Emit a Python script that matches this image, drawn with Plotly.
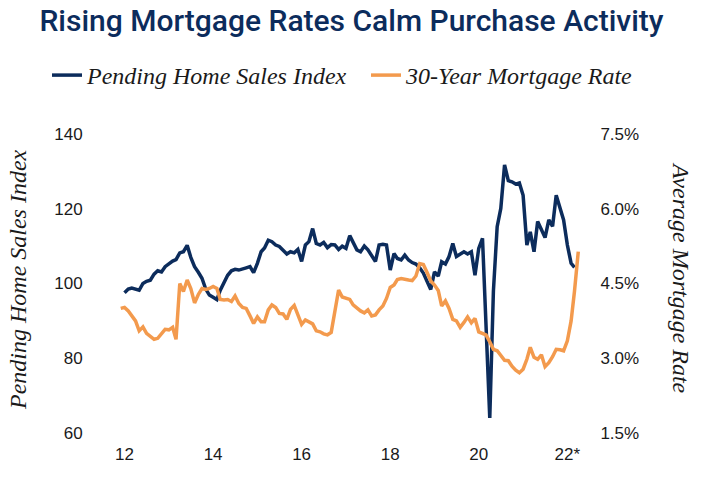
import datetime as dt
import pandas as pd
import plotly.graph_objects as go

# ---------------- data ----------------
title_text = "Rising Mortgage Rates Calm Purchase Activity"
series_names = ["Pending Home Sales Index", "30-Year Mortgage Rate"]
left_title = "Pending Home Sales Index"
right_title = "Average Mortgage Rate"

pending_start = "2012-01-01"   # monthly
pending_index = [
    97.5, 98.5, 98.8, 98.6, 98.2, 100.0, 100.6, 100.9, 102.5, 103.4,
    103.1, 104.5, 105.4, 106.0, 106.4, 108.2, 108.5, 110.2, 107.0, 104.5,
    103.0, 101.4, 98.5, 96.9, 96.3, 95.7, 98.2, 100.5, 102.2, 103.4,
    103.8, 103.6, 104.0, 104.2, 104.5, 102.9, 105.4, 108.5, 109.5, 111.6,
    111.2, 110.3, 109.9, 108.8, 107.9, 108.5, 108.2, 109.1, 105.9, 110.3,
    111.2, 114.7, 110.7, 110.3, 111.0, 109.6, 110.4, 110.3, 109.1, 110.0,
    109.4, 112.8, 111.2, 109.0, 108.5, 110.0, 109.0, 107.5, 105.9, 110.3,
    110.5, 110.3, 103.6, 108.0, 106.7, 106.3, 107.6, 106.3, 105.6, 105.2,
    104.2, 102.8, 100.8, 98.4, 103.1, 102.0, 105.8, 105.2, 107.2, 110.7,
    107.2, 107.8, 108.5, 107.9, 108.5, 102.2, 109.4, 112.1, 87.0, 64.0,
    98.0, 115.2, 120.1, 131.7, 127.5, 127.2, 126.6, 126.9, 123.6, 110.3,
    113.8, 108.5, 116.6, 114.3, 112.3, 117.0, 115.3, 123.6, 119.8, 117.0,
    110.3, 105.4, 104.3,
]

rate_start = "2011-12-01"      # monthly, percent
mortgage_rate = [
    4.00, 4.02, 3.95, 3.85, 3.75, 3.55, 3.63, 3.50, 3.45, 3.38,
    3.40, 3.50, 3.58, 3.57, 3.62, 3.38, 4.50, 4.34, 4.57, 4.40,
    4.11, 4.28, 4.40, 4.38, 4.40, 4.44, 4.40, 4.18, 4.17, 4.18,
    4.14, 4.25, 4.10, 4.02, 4.00, 3.85, 3.70, 3.83, 3.73, 3.73,
    3.97, 4.07, 4.02, 3.90, 3.89, 3.78, 3.98, 4.06, 3.87, 3.68,
    3.77, 3.73, 3.69, 3.55, 3.53, 3.49, 3.47, 3.52, 3.95, 4.37,
    4.23, 4.20, 4.18, 4.07, 4.00, 3.95, 3.91, 3.97, 3.85, 3.87,
    3.97, 4.05, 4.20, 4.42, 4.47, 4.58, 4.60, 4.58, 4.57, 4.56,
    4.65, 4.90, 4.88, 4.72, 4.55, 4.47, 4.36, 4.05, 4.15, 4.00,
    3.78, 3.75, 3.62, 3.72, 3.83, 3.71, 3.80, 3.53, 3.50, 3.47,
    3.33, 3.18, 3.15, 3.05, 2.96, 2.95, 2.84, 2.76, 2.71, 2.78,
    2.98, 3.22, 3.02, 2.98, 3.07, 2.83, 2.91, 3.03, 3.18, 3.17,
    3.15, 3.35, 3.75, 4.35, 5.14,
]

x_tick_dates = ["2012-01-01", "2014-01-01", "2016-01-01", "2018-01-01", "2020-01-01", "2022-01-01"]
x_tick_labels = ["12", "14", "16", "18", "20", "22*"]
left_ticks = [60, 80, 100, 120, 140]
left_tick_labels = ["60", "80", "100", "120", "140"]
right_ticks = [1.5, 3.0, 4.5, 6.0, 7.5]
right_tick_labels = ["1.5%", "3.0%", "4.5%", "6.0%", "7.5%"]

# ---------------- styling / layout ----------------
W, H = 703, 492
NAVY = "#0c2c5c"
ORANGE = "#f39a4d"
TEXT = "#1a1a1a"

# plot-area edges, in pixels
PLOT_L, PLOT_R, PLOT_T, PLOT_B = 110, 590, 134, 433
pw = PLOT_R - PLOT_L
ph = PLOT_B - PLOT_T

pending_dates = pd.date_range(pending_start, periods=len(pending_index), freq="MS")
rate_dates = pd.date_range(rate_start, periods=len(mortgage_rate), freq="MS")

# x range chosen so that Jan-2012 sits at x=124.5 px with 3.69 px per month
px_per_day = 3.69 * 12 / 365.25
anchor = dt.datetime(2012, 1, 1)
x0 = anchor - dt.timedelta(days=(124.5 - PLOT_L) / px_per_day)
x1 = anchor + dt.timedelta(days=(PLOT_R - 124.5) / px_per_day)


def paper_x(px):
    return (px - PLOT_L) / pw


def paper_y(py):
    return (PLOT_B - py) / ph


def cont_x(px):
    return px / W


def cont_y(py):
    return 1 - py / H


fig = go.Figure()
fig.add_trace(go.Scatter(
    x=pending_dates, y=pending_index, name=series_names[0], mode="lines",
    line=dict(color=NAVY, width=3.5), yaxis="y", legend="legend",
))
fig.add_trace(go.Scatter(
    x=rate_dates, y=mortgage_rate, name=series_names[1], mode="lines",
    line=dict(color=ORANGE, width=3.5), yaxis="y2", legend="legend2",
))

tick_font = dict(family="Liberation Sans, Arial, sans-serif", size=17, color=TEXT)
serif_italic = dict(family="Liberation Serif, Times New Roman, serif", size=24,
                    color=TEXT, style="italic")


def legend_at(px, top):
    return dict(
        orientation="h",
        xref="container", yref="container",
        x=cont_x(px), xanchor="left",
        y=cont_y(top), yanchor="top",
        font=serif_italic, itemwidth=30,
        bgcolor="rgba(0,0,0,0)",
    )


fig.update_layout(
    width=W, height=H,
    paper_bgcolor="white", plot_bgcolor="white",
    margin=dict(l=PLOT_L, r=W - PLOT_R, t=PLOT_T, b=H - PLOT_B, pad=0, autoexpand=False),
    title=dict(
        text=title_text,
        font=dict(family="Roboto, Arial, sans-serif", size=30, color=NAVY, weight=500),
        x=0.5, xanchor="center", xref="container",
        y=cont_y(20), yanchor="middle", yref="container",
    ),
    showlegend=True,
    legend=legend_at(47, 53),
    legend2=legend_at(366, 53),
    xaxis=dict(
        type="date", range=[x0, x1],
        tickmode="array", tickvals=x_tick_dates, ticktext=x_tick_labels,
        showgrid=False, zeroline=False, showline=False,
        ticks="outside", ticklen=6, tickcolor="rgba(0,0,0,0)",
        tickfont=tick_font,
    ),
    yaxis=dict(
        range=[60, 140], tickmode="array", tickvals=left_ticks, ticktext=left_tick_labels,
        showgrid=False, zeroline=False, showline=False,
        ticks="outside", ticklen=23, tickcolor="rgba(0,0,0,0)",
        tickfont=tick_font,
    ),
    yaxis2=dict(
        range=[1.5, 7.5], overlaying="y", side="right",
        tickmode="array", tickvals=right_ticks, ticktext=right_tick_labels,
        showgrid=False, zeroline=False, showline=False,
        ticks="outside", ticklen=6, tickcolor="rgba(0,0,0,0)",
        tickfont=tick_font,
    ),
    annotations=[
        dict(text=left_title, xref="paper", yref="paper",
             x=paper_x(18), y=paper_y(280),
             xanchor="center", yanchor="middle", textangle=-90,
             showarrow=False, font=serif_italic),
        dict(text=right_title, xref="paper", yref="paper",
             x=paper_x(681), y=paper_y(278),
             xanchor="center", yanchor="middle", textangle=90,
             showarrow=False, font=serif_italic),
    ],
)

# remove the browser's default 8px page margin so the figure fills the window
fig.write_html(
    "out.html",
    config={"displayModeBar": False},
    post_script="document.body.style.margin='0';",
)
